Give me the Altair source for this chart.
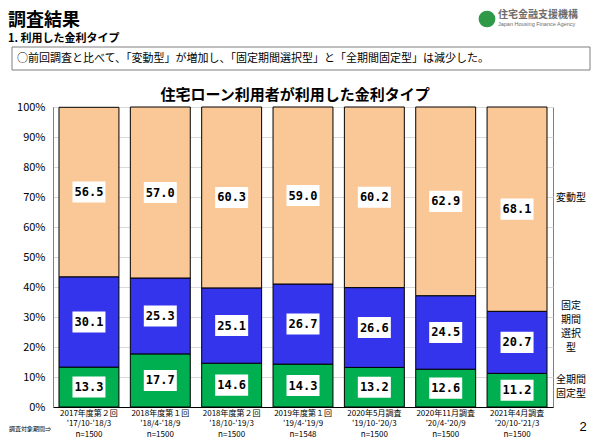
import altair as alt
import pandas as pd

cats = ["2017年度第２回", "2018年度第１回", "2018年度第２回", "2019年度第１回",
        "2020年5月調査", "2020年11月調査", "2021年4月調査"]
periods = ["'17/10-'18/3", "'18/4-'18/9", "'18/10-'19/3", "'19/4-'19/9",
           "'19/10-'20/3", "'20/4-'20/9", "'20/10-'21/3"]
n_resp = [1500, 1500, 1500, 1548, 1500, 1500, 1500]

zenkikan = [13.3, 17.7, 14.6, 14.3, 13.2, 12.6, 11.2]      # 全期間固定型
kikan_sentaku = [30.1, 25.3, 25.1, 26.7, 26.6, 24.5, 20.7]  # 固定期間選択型
hendo = [56.5, 57.0, 60.3, 59.0, 60.2, 62.9, 68.1]          # 変動型

types = ["全期間固定型", "固定期間選択型", "変動型"]
colors = ["#00B050", "#3434EC", "#FAC896"]

JP = "Noto Sans CJK JP"

rows = []
for i, c in enumerate(cats):
    for o, (t, vals) in enumerate(zip(types, [zenkikan, kikan_sentaku, hendo])):
        rows.append({"cat": c, "type": t, "value": vals[i], "ord": o})
df = pd.DataFrame(rows)

xlab = pd.DataFrame({"cat": cats,
                     "lab": [f"{c}\n{p}\nn={n}" for c, p, n in zip(cats, periods, n_resp)]})

W, H = 500, 300

x_scale = alt.Scale(paddingInner=0.16, paddingOuter=0.084)
y_scale = alt.Scale(domain=[0, 100])
x_axis = alt.Axis(labels=False, ticks=False, title=None, domainColor="#000000",
                  domainWidth=1)
y_axis = alt.Axis(values=list(range(0, 101, 10)), labelExpr="datum.value + '%'",
                  title=None, ticks=False, labelPadding=8, labelFontSize=11,
                  labelColor="#000000", labelFont=JP, gridColor="#d9d9d9",
                  labelOverlap=False, domainColor="#7f7f7f")

base = alt.Chart(df)

xs = alt.X("cat:N", sort=cats, scale=x_scale, axis=x_axis)

bars = base.mark_bar(stroke="#000000", strokeWidth=1).encode(
    x=xs,
    y=alt.Y("value:Q", stack="zero", scale=y_scale, axis=y_axis),
    color=alt.Color("type:N", scale=alt.Scale(domain=types, range=colors), legend=None),
    order=alt.Order("ord:Q"),
)

stacked = base.transform_stack(
    stack="value", groupby=["cat"], as_=["y0", "y1"], sort=[alt.SortField("ord")]
).transform_calculate(mid="(datum.y0 + datum.y1) / 2")

ys = alt.Y("mid:Q", scale=y_scale, axis=y_axis)

boxes = stacked.mark_point(shape="M-1,-0.64H1V0.64H-1Z", filled=True, fill="white",
                           opacity=1, strokeWidth=0, size=33 * 33).encode(x=xs, y=ys)

vals = stacked.mark_text(font="DejaVu Sans Mono", fontSize=12, fontWeight="bold",
                         color="#000000").encode(
    x=xs, y=ys, text=alt.Text("value:Q", format=".1f"))

xlabels = alt.Chart(xlab).mark_text(font=JP, fontSize=8, lineBreak="\n", lineHeight=10.3,
                                    baseline="top", color="#000000").encode(
    x=xs, y=alt.value(H + 3), text="lab:N")


def txt(t, x, y, **kw):
    return alt.Chart(pd.DataFrame({"t": [t]})).mark_text(**kw).encode(
        x=alt.value(x), y=alt.value(y), text="t:N")


right_labels = ["変動型", "固定\n期間\n選択\n型", "全期間\n固定型"]

layers = [
    bars, boxes, vals, xlabels,
    txt("住宅ローン利用者が利用した金利タイプ", 242, -12, font=JP, fontSize=15,
        fontWeight="bold", color="#000000"),
    txt(right_labels[0], 518, 91, font=JP, fontSize=10, color="#000000"),
    txt(right_labels[1], 518, 194, font=JP, fontSize=10, color="#000000",
        lineBreak="\n", lineHeight=14, baseline="top"),
    txt(right_labels[2], 518, 268, font=JP, fontSize=10, color="#000000",
        lineBreak="\n", lineHeight=14, baseline="top"),
    txt("調査対象期間⇒", -2, 322, font=JP, fontSize=6, align="right", color="#000000"),
    txt("2", 530, 320, font="Liberation Sans", fontSize=13, color="#000000"),
    txt("調査結果", -45, -95, font=JP, fontSize=18, fontWeight="bold", align="left",
        baseline="top", color="#000000"),
    txt("1. 利用した金利タイプ", -45, -68, font=JP, fontSize=11, fontWeight="bold",
        align="left", color="#000000"),
    alt.Chart(pd.DataFrame({"a": [0]})).mark_rect(fill="white", stroke="#7f7f7f",
                                                  strokeWidth=1).encode(
        x=alt.value(-41), x2=alt.value(537), y=alt.value(-60), y2=alt.value(-37)),
    txt("○前回調査と比べて、「変動型」が増加し、「固定期間選択型」と「全期間固定型」は減少した。",
        -36, -48, font=JP, fontSize=11, align="left", color="#000000"),
    alt.Chart(pd.DataFrame({"a": [0]})).mark_circle(color="#2e9a48", opacity=1,
                                                    size=280).encode(
        x=alt.value(434), y=alt.value(-88)),
    txt("住宅金融支援機構", 445, -92, font=JP, fontSize=10, fontWeight="bold",
        align="left", color="#6d6d6d"),
    txt("Japan Housing Finance Agency", 445, -83, font="Liberation Sans", fontSize=5.5,
        align="left", color="#6d6d6d"),
]

chart = alt.layer(*layers).properties(
    width=W, height=H,
    autosize=alt.AutoSizeParams(type="none"),
    padding={"left": 45, "top": 99, "right": 39, "bottom": 32},
    background="white",
).configure_view(stroke="#7f7f7f", strokeWidth=1)

chart.save("out.html", embed_options={"renderer": "svg", "actions": False})
